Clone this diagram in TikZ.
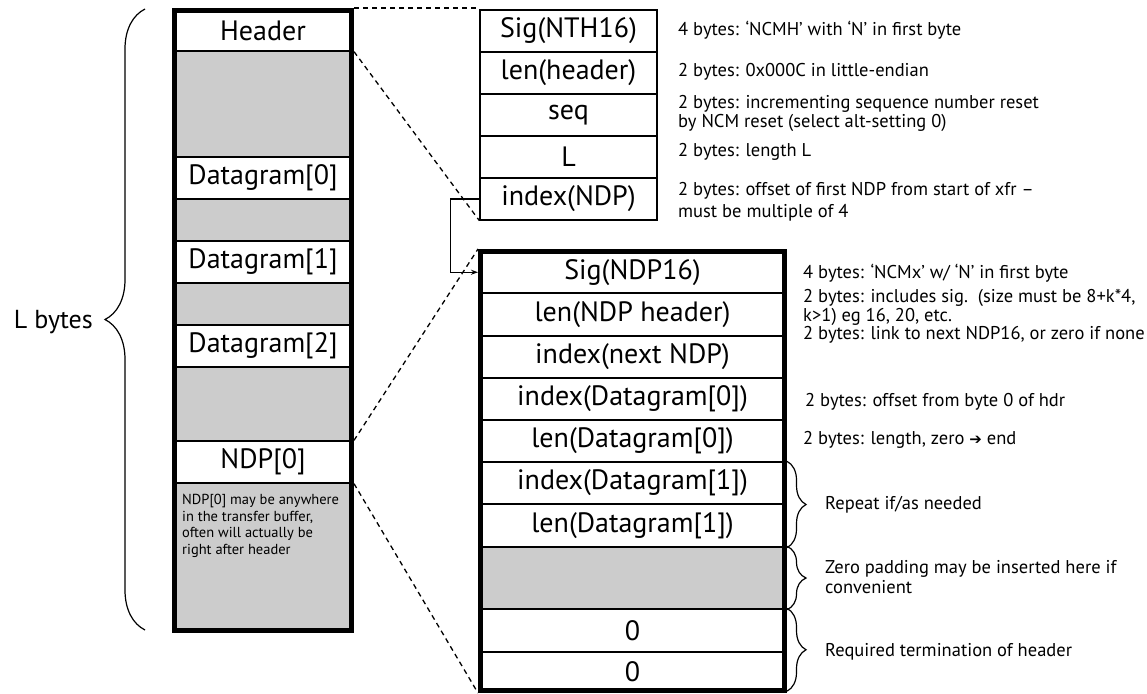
\documentclass[tikz,border=0pt]{standalone}
\usepackage{fontspec}
\setmainfont{PT Sans}
\newfontfamily\symfont{DejaVu Sans}
\usetikzlibrary{decorations.pathreplacing,arrows.meta}
\definecolor{cellgray}{RGB}{204,204,204}
\newcommand\celltext{\fontsize{28}{30}\selectfont}
\newcommand\notetext{\fontsize{18.5}{19}\selectfont}
\newcommand\smalltext{\fontsize{14.5}{16.5}\selectfont}
\tikzset{
  cell/.style={draw, line width=1.3pt, inner sep=0pt, font=\celltext, fill=white},
  padcell/.style={draw, line width=1.3pt, inner sep=0pt, fill=cellgray},
  framebox/.style={draw, line width=5pt, inner sep=0pt},
  dashline/.style={line width=1.3pt, dash pattern=on 5pt off 4pt},
  link/.style={line width=1.3pt, -{Stealth[length=7pt,width=5pt]}},
  rbrace/.style={line width=1.2pt, decorate, decoration={brace, amplitude=19pt}},
  lbrace/.style={line width=1.2pt, decorate, decoration={brace, amplitude=40pt}},
  note/.style={anchor=west, inner sep=0pt, font=\notetext, align=left},
}
\begin{document}
\begin{tikzpicture}[x=1pt,y=-1pt]
\useasboundingbox (0,0) rectangle (1147,693);

% ---- transfer buffer ----
\node[cell, minimum width=177, minimum height=40.5] (hdr) at (263,30.75) {Header};
\node[padcell, minimum width=177, minimum height=106] (g1) at (263,104) {};
\node[cell, minimum width=177, minimum height=42] (d0) at (263,178) {Datagram[0]};
\node[padcell, minimum width=177, minimum height=42] (g2) at (263,220) {};
\node[cell, minimum width=177, minimum height=42] (d1) at (263,262) {Datagram[1]};
\node[padcell, minimum width=177, minimum height=42] (g3) at (263,304) {};
\node[cell, minimum width=177, minimum height=42] (d2) at (263,346) {Datagram[2]};
\node[padcell, minimum width=177, minimum height=74] (g4) at (263,404) {};
\node[cell, minimum width=177, minimum height=42] (ndp) at (263,462) {NDP[0]};
\node[padcell, minimum width=177, minimum height=147.5] (g5) at (263,556.75) {};
\node[anchor=north west, inner sep=0pt, font=\smalltext, align=left] (g5txt) at (182,494)
  {NDP[0] may be anywhere\\in the transfer buffer,\\often will actually be\\right after header};
\node[framebox, minimum width=177, minimum height=620] (buf) at (263,320.5) {};

% ---- total length brace ----
\coordinate (lbbot) at (145,630);
\coordinate (lbtop) at (145,9);
\draw[lbrace] (lbbot) -- (lbtop);
\node[anchor=east, inner sep=0pt, font=\fontsize{26}{28}\selectfont] (lbytes) at (93,322) {L bytes};

% ---- NTH16 header ----
\node[cell, minimum width=177, minimum height=42] (nth1) at (568.5,31) {Sig(NTH16)};
\node[cell, minimum width=177, minimum height=42] (nth2) at (568.5,73) {len(header)};
\node[cell, minimum width=177, minimum height=42] (nth3) at (568.5,115) {seq};
\node[cell, minimum width=177, minimum height=42] (nth4) at (568.5,157) {L};
\node[cell, minimum width=177, minimum height=42] (nth5) at (568.5,199) {index(NDP)};

\node[note] (a1) at (678,30) {4 bytes: ‘NCMH’ with ‘N’ in first byte};
\node[note] (a2) at (678,72) {2 bytes: 0x000C in little-endian};
\node[note] (a3) at (678,113) {2 bytes: incrementing sequence number reset\\by NCM reset (select alt-setting 0)};
\node[note] (a4) at (678,152) {2 bytes: length L};
\node[note, font=\fontsize{18.5}{21.5}\selectfont] (a5) at (678,202) {2 bytes: offset of first NDP from start of xfr –\\must be multiple of 4};

% ---- NDP16 ----
\node[cell, minimum width=304, minimum height=41.5] (s0) at (632.5,272.25) {Sig(NDP16)};
\node[cell, minimum width=304, minimum height=43] (s1) at (632.5,314.5) {len(NDP header)};
\node[cell, minimum width=304, minimum height=42] (s2) at (632.5,357) {index(next NDP)};
\node[cell, minimum width=304, minimum height=42] (s3) at (632.5,399) {index(Datagram[0])};
\node[cell, minimum width=304, minimum height=42] (s4) at (632.5,441) {len(Datagram[0])};
\node[cell, minimum width=304, minimum height=42] (s5) at (632.5,483) {index(Datagram[1])};
\node[cell, minimum width=304, minimum height=43] (s6) at (632.5,525.5) {len(Datagram[1])};
\node[padcell, minimum width=304, minimum height=62] (s7) at (632.5,578) {};
\node[cell, minimum width=304, minimum height=43] (s8) at (632.5,630.5) {0};
\node[cell, minimum width=304, minimum height=38.5] (s9) at (632.5,671.25) {0};
\node[framebox, minimum width=304, minimum height=439] (ndptab) at (632.5,471) {};

\node[note] (b1) at (803,273) {4 bytes: ‘NCMx’ w/ ‘N’ in first byte};
\node[note, font=\fontsize{18.5}{19.5}\selectfont] (b2) at (803,307.5) {2 bytes: includes sig.\ \ (size must be 8+k*4,\\k>1) eg 16, 20, etc.};
\node[note] (b3) at (803,335) {2 bytes: link to next NDP16, or zero if none};
\node[note] (b4) at (805,402) {2 bytes: offset from byte 0 of hdr};
\node[note] (b5) at (803,440) {2 bytes: length, zero {\symfont\fontsize{15}{16}\selectfont ➔} end};

% ---- braces on the NDP16 ----
\draw[rbrace] (ndptab.east |- s5.north) -- (ndptab.east |- s6.south);
\draw[rbrace] (ndptab.east |- s7.north) -- (ndptab.east |- s7.south);
\draw[rbrace] (ndptab.east |- s8.north) -- (ndptab.east |- s9.south);
\node[note] (c1) at (825,505) {Repeat if/as needed};
\node[note, font=\fontsize{18.5}{20}\selectfont] (c2) at (825,577) {Zero padding may be inserted here if\\convenient};
\node[note] (c3) at (825,652) {Required termination of header};

% ---- zoom lines and link ----
\draw[dashline] (buf.north east) -- (buf.north east -| nth1.west);
\draw[dashline] (buf.east |- hdr.south) -- (nth5.south west);
\draw[dashline] (buf.east |- ndp.north) -- (ndptab.north west);
\draw[dashline] (buf.east |- ndp.south) -- (ndptab.south west);
\draw[link] (nth5.west) -- ++(-29,0) |- (ndptab.west |- s0.west);
\end{tikzpicture}
\end{document}
